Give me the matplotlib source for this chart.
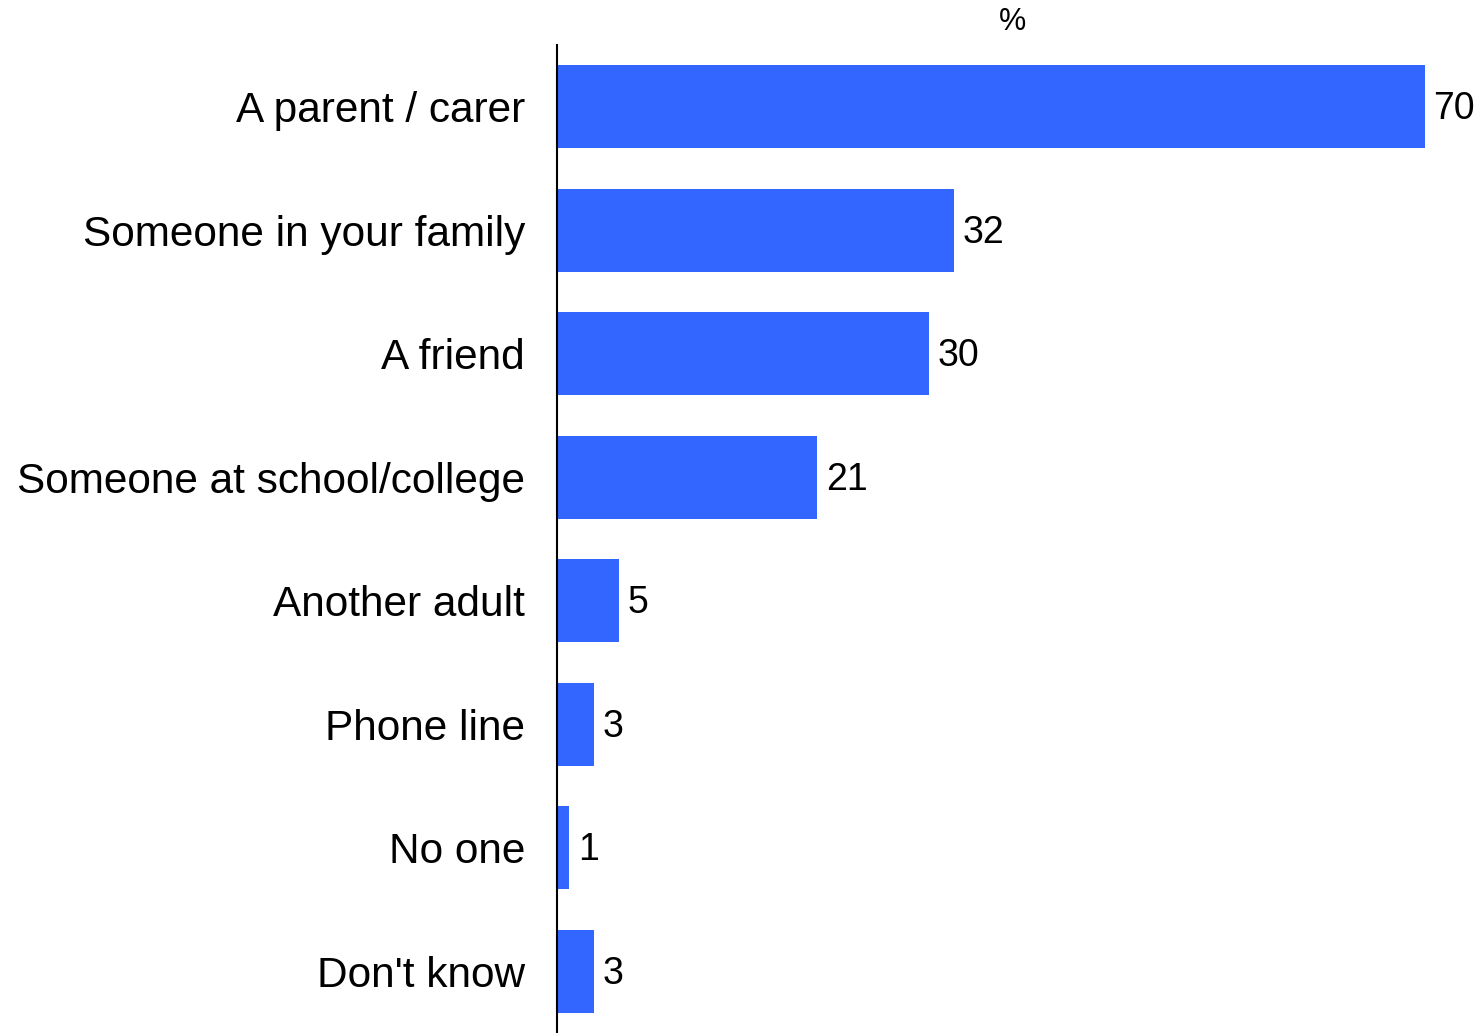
import matplotlib.pyplot as plt

# Category labels and percentages, top to bottom
categories = ["A parent / carer", "Someone in your family", "A friend",
              "Someone at school/college", "Another adult", "Phone line",
              "No one", "Don't know"]
values = [70, 32, 30, 21, 5, 3, 1, 3]

plt.rcParams['font.family'] = ['Liberation Sans', 'DejaVu Sans']

fig = plt.figure(figsize=(14.81, 10.33), dpi=100)
ax = fig.add_axes([557 / 1481, 0, (1467 - 557) / 1481, (1033 - 45) / 1033])

pos = list(range(len(categories)))
ax.barh(pos, values, height=0.67, color="#3366FF")

# Value labels at the end of each bar
for p, v in zip(pos, values):
    ax.text(v + 0.7, p + 0.02, str(v), va="center", ha="left", fontsize=27)

ax.set_ylim(len(categories) - 0.5, -0.5)
ax.set_xlim(0, 73.4)
ax.set_yticks(pos)
ax.set_yticklabels(categories, fontsize=30.5)
ax.tick_params(axis="y", length=0, pad=23)
ax.set_xticks([])

for s in ["top", "right", "bottom"]:
    ax.spines[s].set_visible(False)
ax.spines["left"].set_linewidth(1.5)

# Unit label above the plot
fig.text(1012 / 1481, 1 - 22 / 1033, "%", ha="center", va="center", fontsize=22)

plt.savefig("out.png", dpi=100)
